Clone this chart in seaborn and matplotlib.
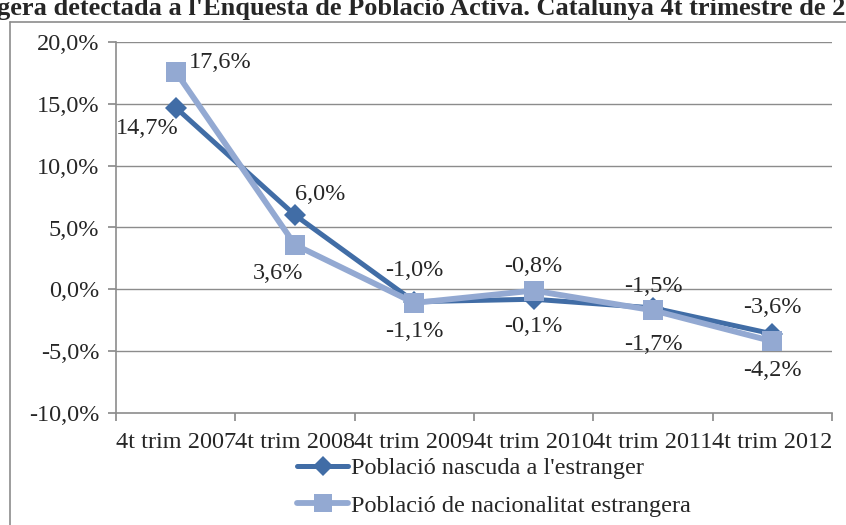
import matplotlib
matplotlib.use("Agg")
import matplotlib.pyplot as plt
import matplotlib.lines as mlines
import pandas as pd
import seaborn as sns

# Dades
categories = ['4t trim 2007', '4t trim 2008', '4t trim 2009',
              '4t trim 2010', '4t trim 2011', '4t trim 2012']
nascuda = [14.7, 6.0, -1.0, -0.8, -1.5, -3.6]
nacionalitat = [17.6, 3.6, -1.1, -0.1, -1.7, -4.2]
series_names = ["Població nascuda a l'estranger", "Població de nacionalitat estrangera"]
yticks = [-10, -5, 0, 5, 10, 15, 20]

df = pd.DataFrame({
    'trim': categories * 2,
    'valor': nascuda + nacionalitat,
    'serie': [series_names[0]] * 6 + [series_names[1]] * 6,
})
df['x'] = list(range(6)) * 2

sns.set_theme(style='white')
plt.rcParams['font.family'] = ['Liberation Serif', 'DejaVu Serif']

dark = '#416da6'
light = '#93a9d2'
fs = 17.5

fig = plt.figure(figsize=(8.46, 5.25), dpi=100)
ax = fig.add_axes([116 / 846, 1 - 413 / 525, 716 / 846, 371 / 525])

ax.set_axisbelow(True)
for y in yticks[1:]:
    ax.axhline(y, color='#8c8c8c', lw=1.0, zorder=0)

sns.lineplot(data=df[df['serie'] == series_names[1]], x='x', y='valor', ax=ax,
             color=light, lw=4.2, marker='s', markersize=15, markeredgewidth=0, zorder=3)
sns.lineplot(data=df[df['serie'] == series_names[0]], x='x', y='valor', ax=ax,
             color=dark, lw=3.6, marker='D', markersize=11, markeredgewidth=0, zorder=2)

# etiquetes de dades (desplaçaments en píxels)
off_dark = [(-28, -21), (25, 21), (0, 31), (0, 33), (0, 21), (0, 26)]
off_light = [(45, 9), (-17, -29), (0, -29), (0, -36), (0, -34), (0, -29)]
for i in range(6):
    ax.annotate(f"{nascuda[i]:.1f}%".replace('.', ','), (i, nascuda[i]),
                xytext=off_dark[i], textcoords='offset pixels',
                ha='center', va='center', fontsize=fs, zorder=5)
    ax.annotate(f"{nacionalitat[i]:.1f}%".replace('.', ','), (i, nacionalitat[i]),
                xytext=off_light[i], textcoords='offset pixels',
                ha='center', va='center', fontsize=fs, zorder=5)

ax.set_xlim(-0.5, 5.5)
ax.set_ylim(-10, 20)
ax.set_yticks(yticks)
ax.set_yticklabels([f"{v:.1f}%".replace('.', ',') for v in yticks], fontsize=fs)
ax.set_xticks([i - 0.5 for i in range(7)], minor=False)
ax.set_xticklabels([])
ax.set_xticks(range(6), minor=True)
ax.set_xticklabels(categories, minor=True, fontsize=fs)
ax.tick_params(axis='x', which='minor', length=0, pad=14)
ax.tick_params(axis='x', which='major', length=6, color='#8c8c8c', direction='out', bottom=True)
ax.tick_params(axis='y', length=6, color='#8c8c8c', direction='out', left=True, pad=6)
ax.set_xlabel('')
ax.set_ylabel('')
for s in ['top', 'right']:
    ax.spines[s].set_visible(False)
for s in ['left', 'bottom']:
    ax.spines[s].set_color('#8c8c8c')
    ax.spines[s].set_linewidth(1.2)

h1 = mlines.Line2D([], [], color=dark, lw=3.6, marker='D', markersize=10, markeredgewidth=0)
h2 = mlines.Line2D([], [], color=light, lw=4.2, marker='s', markersize=13, markeredgewidth=0)
fig.legend([h1, h2], series_names, loc='center', bbox_to_anchor=(494 / 846, 1 - 487 / 525),
           frameon=False, fontsize=fs, handlelength=2.1, handletextpad=0.1,
           labelspacing=0.65)

# marc del gràfic (retallat)
fig.add_artist(mlines.Line2D([10 / 846, 10 / 846], [0, 1 - 22 / 525], color='#8c8c8c', lw=1.2))
fig.add_artist(mlines.Line2D([10 / 846, 1], [1 - 22 / 525, 1 - 22 / 525], color='#8c8c8c', lw=1.2))

fig.text(-0.004, 1 - 9 / 525,
         "gera detectada a l'Enquesta de Població Activa. Catalunya 4t trimestre de 2007",
         ha='left', va='center', fontsize=19, fontweight='bold')

fig.savefig('out.png', dpi=100)
